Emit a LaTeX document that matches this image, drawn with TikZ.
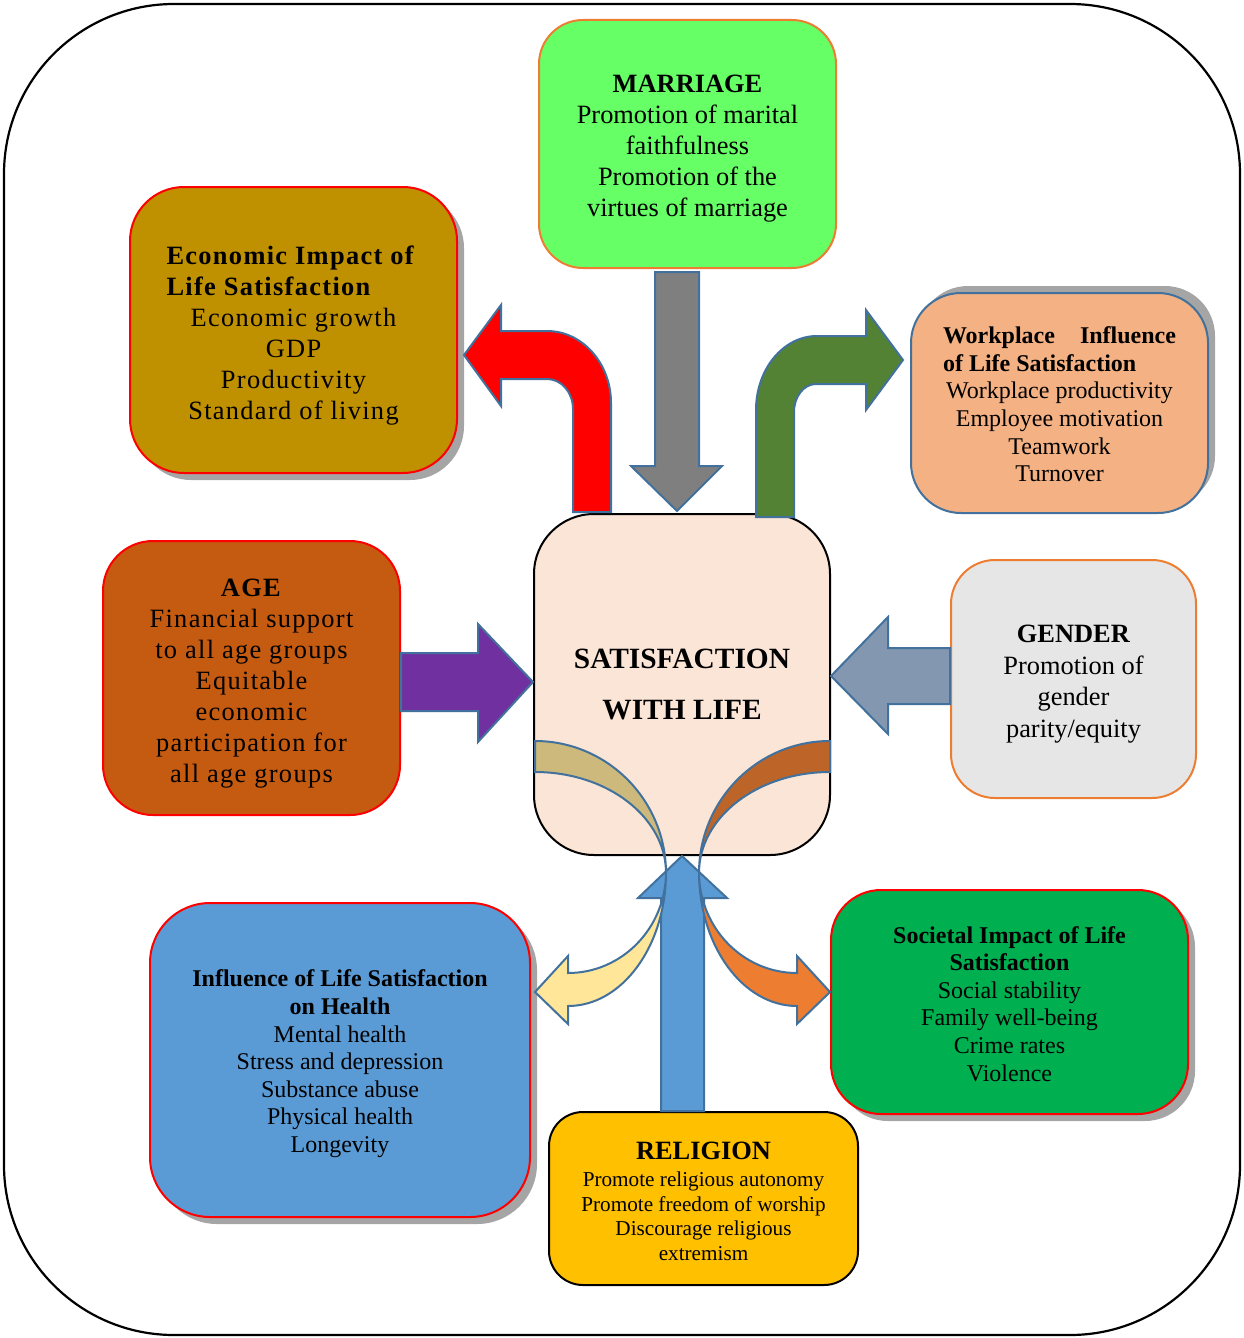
\documentclass[tikz,border=0pt]{standalone}
\usepackage{fontspec}
\setmainfont{Liberation Serif}
\newfontfamily\widefont[LetterSpace=5]{Liberation Serif}
\usepackage{tikz}
\usetikzlibrary{shadows}
\definecolor{mintgreen}{HTML}{66FF66}
\definecolor{mustard}{HTML}{BF9000}
\definecolor{peach}{HTML}{F4B183}
\definecolor{blush}{HTML}{FBE5D6}
\definecolor{rust}{HTML}{C55A11}
\definecolor{palegray}{HTML}{E7E6E6}
\definecolor{skyblue}{HTML}{5B9BD5}
\definecolor{grassgreen}{HTML}{00B050}
\definecolor{amber}{HTML}{FFC000}
\definecolor{officeorange}{HTML}{ED7D31}
\definecolor{steel}{HTML}{41719C}
\definecolor{slate}{HTML}{8497B0}
\definecolor{leafgreen}{HTML}{548235}
\definecolor{grape}{HTML}{7030A0}
\definecolor{midgray}{HTML}{7F7F7F}
\definecolor{sand}{HTML}{CDB97B}
\definecolor{cream}{HTML}{FFE699}
\definecolor{copper}{HTML}{BD6428}
\definecolor{shadowgray}{HTML}{A5A5A5}
\newcommand\topgap[1]{\rule{0pt}{#1}}

\begin{document}
\begin{tikzpicture}[
  x=0.5pt,y=-0.5pt,
  box/.style={rounded corners=25pt,line width=1pt,align=center,inner sep=0pt},
  shadowed/.style={general shadow={fill=shadowgray,shadow xshift=3.5pt,shadow yshift=-3.5pt}},
  blk/.style={draw=steel,line width=1pt},
  big/.style={font=\fontsize{13.2}{15.5}\selectfont},
  wide/.style={font=\widefont\fontsize{13.2}{15.5}\selectfont},
  small/.style={font=\fontsize{12}{13.8}\selectfont}
]
\useasboundingbox (0,0) rectangle (1243,1338);
\draw[line width=1.1pt,rounded corners=85pt] (4,4) rectangle (1240,1335);

\node[box,fill=mintgreen,draw=officeorange,rounded corners=22pt,minimum width=148.5pt,minimum height=124pt,big] (marriage) at (687.5,144)
  {\topgap{13.7pt}\textbf{MARRIAGE}\\Promotion of marital\\faithfulness\\Promotion of the\\virtues of marriage};
\node[box,shadowed,fill=mustard,draw=red,rounded corners=27pt,minimum width=163.5pt,minimum height=143pt,wide] (econ) at (293.5,330)
  {\topgap{15.1pt}\makebox[127pt][l]{\textbf{Economic Impact of}}\\\makebox[127pt][l]{\textbf{Life Satisfaction}}\\Economic growth\\GDP\\Productivity\\Standard of living};
\node[box,general shadow={fill=shadowgray,shadow xshift=3.5pt,shadow yshift=3.5pt},fill=peach,draw=steel,minimum width=148.5pt,minimum height=110pt,small] (work) at (1059.5,403)
  {\topgap{9.8pt}\makebox[116.5pt][s]{\textbf{Workplace Influence}}\\\makebox[116.5pt][l]{\textbf{of Life Satisfaction}}\\Workplace productivity\\Employee motivation\\Teamwork\\Turnover};
\node[box,fill=blush,draw=black,rounded corners=30pt,minimum width=148pt,minimum height=170.5pt,font=\fontsize{14.7}{25.5}\selectfont\bfseries] (life) at (682,684.5)
  {SATISFACTION\\WITH LIFE};
\node[box,fill=rust,draw=red,minimum width=148.5pt,minimum height=137pt,wide] (age) at (251.5,678)
  {\topgap{14.7pt}\textbf{AGE}\\Financial support\\to all age groups\\Equitable\\economic\\participation for\\all age groups};
\node[box,fill=palegray,draw=officeorange,rounded corners=22pt,minimum width=122.5pt,minimum height=119pt,font=\fontsize{13.2}{15.75}\selectfont] (gender) at (1073.5,679)
  {\topgap{13.7pt}\textbf{GENDER}\\Promotion of\\gender\\parity/equity};
\node[box,shadowed,fill=skyblue,draw=red,rounded corners=30pt,minimum width=190pt,minimum height=157pt,small] (health) at (340,1060)
  {\topgap{12.3pt}\textbf{Influence of Life Satisfaction}\\\textbf{on Health}\\Mental health\\Stress and depression\\Substance abuse\\Physical health\\Longevity};
\node[box,shadowed,fill=grassgreen,draw=red,minimum width=178.5pt,minimum height=112pt,small] (society) at (1009.5,1002)
  {\topgap{10.3pt}\textbf{Societal Impact of Life}\\\textbf{Satisfaction}\\Social stability\\Family well-being\\Crime rates\\Violence};
\node[box,fill=amber,draw=black,rounded corners=17pt,minimum width=154.5pt,minimum height=86.5pt,font=\fontsize{10.6}{12.4}\selectfont] (religion) at (703.5,1198.5)
  {\topgap{11.7pt}{\fontsize{13.2}{15}\selectfont\bfseries RELIGION}\\[1pt]Promote religious autonomy\\Promote freedom of worship\\Discourage religious\\extremism};

\draw[blk,fill=midgray] (655,272) -- (699,272) -- (699,466) -- (722,466) -- (677,511) -- (631,466) -- (655,466) -- cycle;
\draw[blk,fill=red] (573,512) -- (573,409) .. controls (573,392.4) and (561.4,379) .. (547,379) -- (501,379) -- (501,406) -- (464,355)
  -- (501,305) -- (501,331) -- (547,331) .. controls (582.3,331) and (611,363.3) .. (611,403) -- (611,512) -- cycle;
\draw[blk,fill=leafgreen] (756,517) -- (756,410) .. controls (756,369.2) and (783.3,336) .. (817,336) -- (866,336) -- (866,310) -- (903,360)
  -- (866,410) -- (866,384) -- (816,384) .. controls (803.9,384) and (794,396.5) .. (794,412) -- (794,517) -- cycle;
\draw[blk,fill=grape] (age.east |- 0,653) -- (478,653) -- (478,624) -- (life.west |- 0,682) -- (478,742) -- (478,711) -- (age.east |- 0,711) -- cycle;
\draw[blk,fill=slate] (gender.west |- 0,648) -- (888,648) -- (888,617) -- (life.east |- 0,676) -- (888,734) -- (888,704) -- (gender.west |- 0,704) -- cycle;
\draw[blk,fill=skyblue] (religion.north -| 661,0) -- (661,898) -- (638,898) -- (life.south) -- (727,898) -- (704,898) -- (religion.north -| 704,0) -- cycle;
\draw[blk,fill=sand] (535,741) .. controls (607.3,741) and (666,800.1) .. (666,873) .. controls (666,817.2) and (607.3,772) .. (535,772) -- cycle;
\draw[blk,fill=cream] (666,872) .. controls (666,927.8) and (622.1,973) .. (568,973) -- (568,956) -- (535,992) -- (568,1024) -- (568,1006)
  .. controls (622.1,1006) and (666,946) .. (666,872) -- cycle;
\draw[blk,fill=copper] (830,741) .. controls (757.7,741) and (699,800.1) .. (699,873) .. controls (699,817.2) and (757.7,772) .. (830,772) -- cycle;
\draw[blk,fill=officeorange] (699,872) .. controls (699,927.8) and (742.9,973) .. (797,973) -- (797,956) -- (830,992) -- (797,1024) -- (797,1006)
  .. controls (742.9,1006) and (699,946) .. (699,872) -- cycle;
\end{tikzpicture}
\end{document}
